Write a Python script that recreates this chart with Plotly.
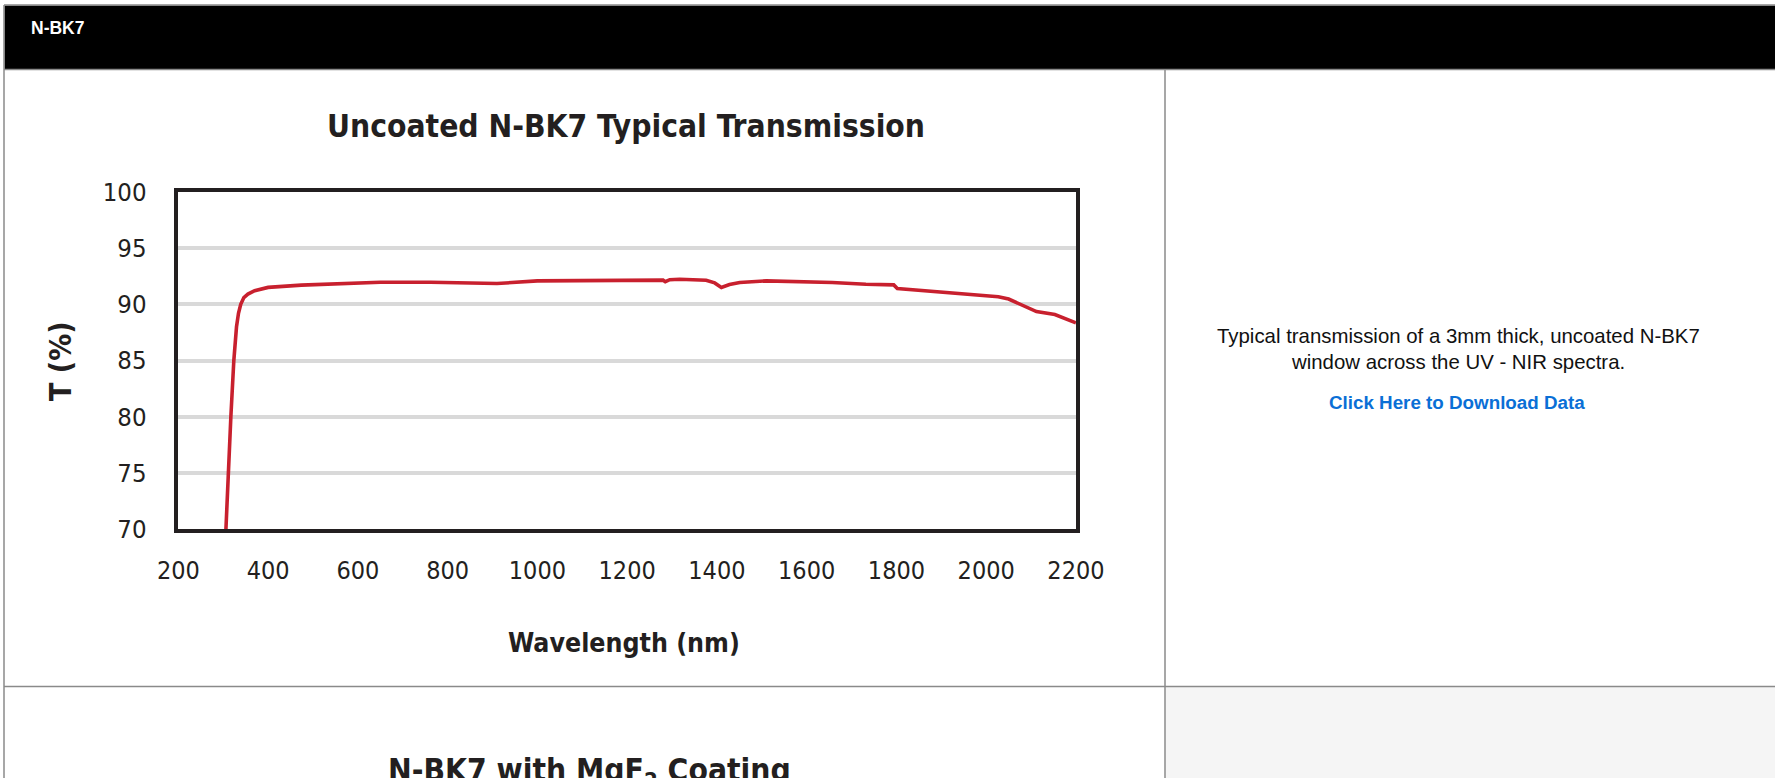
import plotly.graph_objects as go

# ---------------- data ----------------
wavelength_nm = [306, 311, 317, 323.6, 329.6, 334, 339, 346, 355, 370, 400, 474, 540, 585, 650,
                 762, 850, 910, 1000, 1130, 1280, 1285, 1295, 1317, 1376, 1395, 1410, 1428, 1451,
                 1510, 1583, 1657, 1732, 1794, 1802, 1879, 1953, 2027, 2050, 2079, 2112, 2153,
                 2175, 2200]
transmission_pct = [70.0, 75.0, 80.0, 85.0, 88.0, 89.2, 90.0, 90.6, 90.9, 91.2, 91.5, 91.7, 91.78,
                    91.9, 91.95, 91.95, 91.9, 91.84, 92.08, 92.14, 92.14, 92.0, 92.18, 92.22, 92.14,
                    91.9, 91.5, 91.75, 91.93, 92.08, 92.02, 91.93, 91.78, 91.72, 91.4, 91.14, 90.9,
                    90.67, 90.46, 89.96, 89.35, 89.09, 88.76, 88.35]
x_ticks = [200, 400, 600, 800, 1000, 1200, 1400, 1600, 1800, 2000, 2200]
y_ticks = [70, 75, 80, 85, 90, 95, 100]

header_text = "N-BK7"
chart_title = "Uncoated N-BK7 Typical Transmission"
x_title = "Wavelength (nm)"
y_title = "T (%)"
desc_line1 = "Typical transmission of a 3mm thick, uncoated N-BK7"
desc_line2 = "window across the UV - NIR spectra."
link_text = "Click Here to Download Data"
next_title = "N-BK7 with MgF<sub>2</sub> Coating"

# ---------------- layout helpers ----------------
W, H = 1775, 778
def px(x):
    return x / W
def py(y):
    return 1 - y / H

NARROW = "DejaVu Sans Condensed, Liberation Sans Narrow, sans-serif"
ARIAL = "Liberation Sans, Arial, Helvetica, sans-serif"
INK = "#231f20"
BORDER = "#8a8a8a"

fig = go.Figure()
fig.add_trace(go.Scatter(
    x=wavelength_nm, y=transmission_pct, mode="lines",
    line=dict(color="#c8202e", width=3.6), hoverinfo="skip", showlegend=False))

lw = 3.5
fig.update_layout(
    width=W, height=H, margin=dict(l=0, r=0, t=0, b=0, pad=0, autoexpand=False),
    paper_bgcolor="white", plot_bgcolor="white", showlegend=False,
    xaxis=dict(domain=[px(176.6 + lw / 2), px(1077.7 - lw / 2)], range=[200, 2200],
               tickvals=x_ticks, ticktext=[str(v) for v in x_ticks], automargin=False,
               showgrid=False, zeroline=False, showline=True, mirror=True,
               linecolor=INK, linewidth=lw, ticks="", ticklabelstandoff=16,
               tickfont=dict(family=NARROW, size=25, color=INK)),
    yaxis=dict(domain=[py(531 - lw / 2), py(190 + lw / 2)], range=[70, 100],
               tickvals=y_ticks, ticktext=[str(v) for v in y_ticks], automargin=False,
               showgrid=True, gridcolor="#d9d9d9", gridwidth=3.5,
               zeroline=False, showline=True, mirror=True,
               linecolor=INK, linewidth=lw, ticks="", ticklabelstandoff=23,
               tickfont=dict(family=NARROW, size=25.5, color=INK)),
)

shapes = []
shapes.append(dict(type="rect", xref="paper", yref="paper", x0=px(4.5), x1=1, y0=py(69), y1=py(5.5),
                   fillcolor="black", line=dict(width=0), layer="below"))
shapes.append(dict(type="rect", xref="paper", yref="paper", x0=px(1165.5), x1=1, y0=0, y1=py(687),
                   fillcolor="#f5f5f5", line=dict(width=0), layer="below"))
for (x0, y0, x1, y1) in [(4, 5, W, 5), (4, 5, 4, H), (4, 69.5, W, 69.5),
                         (1165, 69.5, 1165, H), (4, 686.5, W, 686.5)]:
    shapes.append(dict(type="line", xref="paper", yref="paper", x0=px(x0), x1=px(x1), y0=py(y0), y1=py(y1),
                       line=dict(color=BORDER, width=1.5), layer="below"))
fig.update_layout(shapes=shapes)

ann = []
ann.append(dict(text="<b>" + header_text + "</b>", x=px(29), y=py(28), xanchor="left", yanchor="middle",
                font=dict(family=ARIAL, size=17.5, color="white")))
ann.append(dict(text="<b>" + chart_title + "</b>", x=px(626), y=py(126), xanchor="center", yanchor="middle",
                font=dict(family=NARROW, size=31.5, color=INK)))
ann.append(dict(text="<b>" + x_title + "</b>", x=px(624), y=py(642), xanchor="center", yanchor="middle",
                font=dict(family=NARROW, size=26.5, color=INK)))
ann.append(dict(text="<b>" + y_title + "</b>", x=px(60), y=py(361), xanchor="center", yanchor="middle",
                textangle=-90, font=dict(family=NARROW, size=30, color=INK)))
ann.append(dict(text=desc_line1, x=px(1458), y=py(336), xanchor="center", yanchor="middle",
                font=dict(family=ARIAL, size=20.4, color="#111111")))
ann.append(dict(text=desc_line2, x=px(1458), y=py(362), xanchor="center", yanchor="middle",
                font=dict(family=ARIAL, size=20.4, color="#111111")))
ann.append(dict(text="<b>" + link_text + "</b>", x=px(1457), y=py(403), xanchor="center", yanchor="middle",
                font=dict(family=ARIAL, size=18.8, color="#0a6fd6")))
ann.append(dict(text="<b>" + next_title + "</b>", x=px(589), y=py(772), xanchor="center", yanchor="middle",
                font=dict(family=NARROW, size=31.5, color=INK)))
for a in ann:
    a.update(xref="paper", yref="paper", showarrow=False)
fig.update_layout(annotations=ann)

fig.write_html("out.html", config={"displayModeBar": False},
               post_script="document.body.style.margin='0';document.body.style.overflow='hidden';")
